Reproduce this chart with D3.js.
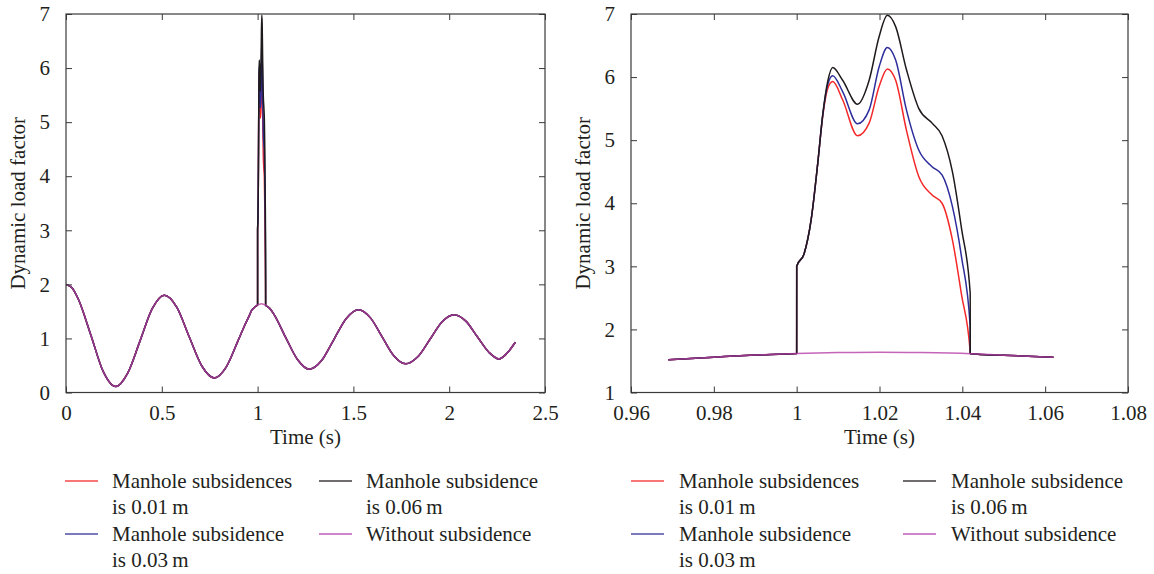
<!DOCTYPE html>
<html>
<head>
<meta charset="utf-8">
<script src="https://cdn.jsdelivr.net/npm/d3@7"></script>
<style>
  body { margin: 0; background: #fff; }
  svg { display: block; }
</style>
</head>
<body>
<div id="chart"></div>
<script>
// Без проседания люка (общая кривая)
const timeBase = [0, 0.03, 0.065, 0.13, 0.194, 0.259, 0.322, 0.386, 0.45, 0.513, 0.578, 0.643, 0.709, 0.774,
  0.836, 0.897, 0.93, 0.959, 0.969, 0.98, 0.99, 1.0, 1.01, 1.02, 1.03, 1.042, 1.05, 1.062, 1.083, 1.145,
  1.208, 1.27, 1.334, 1.398, 1.463, 1.527, 1.589, 1.65, 1.711, 1.773, 1.836, 1.9, 1.963, 2.026, 2.087,
  2.147, 2.208, 2.26, 2.3, 2.345]
const dlfBase = [2.0, 1.94, 1.72, 1.06, 0.39, 0.11, 0.36, 0.95, 1.55, 1.80, 1.58, 1.03, 0.49, 0.27,
  0.47, 0.95, 1.22, 1.44, 1.52, 1.56, 1.595, 1.62, 1.633, 1.64, 1.633, 1.614, 1.59, 1.56, 1.46, 1.03,
  0.61, 0.43, 0.59, 0.98, 1.37, 1.53, 1.38, 1.03, 0.68, 0.53, 0.66, 0.985, 1.31, 1.44, 1.32,
  1.03, 0.74, 0.62, 0.72, 0.93]

// Удар по люку: 1.0 .. 1.042 с
const timeHit = [1.0, 1.00001, 1.0018, 1.0035, 1.0051, 1.0063, 1.0075, 1.0087, 1.0111, 1.0147, 1.0175,
  1.0199, 1.0219, 1.0239, 1.0265, 1.0295, 1.0327, 1.0351, 1.0376, 1.0398, 1.0419, 1.04191]
const dlf001 = [1.62, 3.0, 3.2, 3.74, 4.64, 5.38, 5.82, 5.93, 5.64, 5.07, 5.27,
  5.85, 6.13, 5.95, 5.16, 4.42, 4.13, 4.00, 3.42, 2.55, 1.64, 1.62]
const dlf003 = [1.62, 3.0, 3.2, 3.74, 4.64, 5.40, 5.88, 6.02, 5.77, 5.26, 5.48,
  6.16, 6.47, 6.27, 5.48, 4.84, 4.58, 4.45, 3.95, 3.15, 2.05, 1.62]
const dlf006 = [1.62, 3.0, 3.2, 3.74, 4.64, 5.41, 5.93, 6.15, 5.95, 5.57, 5.95,
  6.64, 6.98, 6.80, 6.12, 5.50, 5.27, 5.07, 4.50, 3.60, 2.57, 1.62]

const seriesNames = [['Manhole subsidences', 'is 0.01\u2009m'], ['Manhole subsidence', 'is 0.06\u2009m'],
  ['Manhole subsidence', 'is 0.03\u2009m'], ['Without subsidence']]
const xTicksLeft = [0, 0.5, 1, 1.5, 2, 2.5]
const xTicksRight = [0.96, 0.98, 1, 1.02, 1.04, 1.06, 1.08]
const yTicksLeft = [0, 1, 2, 3, 4, 5, 6, 7]
const yTicksRight = [1, 2, 3, 4, 5, 6, 7]

const COLORS = { red: '#f42828', blue: '#2d2d9c', black: '#1f1a1c', mag: '#b63ea9' }
const FONT = "'Liberation Serif', 'Times New Roman', serif"

function pts(ts, vs) { return ts.map((t, i) => ({ t: t, v: vs[i] })) }

const base = pts(timeBase, dlfBase)
function withHit(vals) {
  return base.filter(d => d.t < 1.0)
    .concat(pts(timeHit, vals))
    .concat(base.filter(d => d.t > 1.0419))
}

const lines = [
  { data: withHit(dlf001), color: COLORS.red, op: 1 },
  { data: withHit(dlf003), color: COLORS.blue, op: 1 },
  { data: withHit(dlf006), color: COLORS.black, op: 1 },
  { data: base, color: COLORS.mag, op: 0.8 }
]

const svg = d3.select('#chart').append('svg')
  .attr('width', 1154)
  .attr('height', 574)

const panels = [
  { id: 'l', x0: 66, x1: 545, xd: [0, 2.5], yd: [0, 7], xt: xTicksLeft, yt: yTicksLeft,
    tRange: [0, 3], ylabX: 25, leg: { c1: 65, c2: 319, txt: 47 } },
  { id: 'r', x0: 631, x1: 1128, xd: [0.96, 1.08], yd: [1, 7], xt: xTicksRight, yt: yTicksRight,
    tRange: [0.969, 1.062], ylabX: 590, leg: { c1: 631, c2: 903, txt: 48 } }
]
const TOP = 14, BOT = 392.5

panels.forEach(p => {
  const x = d3.scaleLinear().domain(p.xd).range([p.x0, p.x1])
  const y = d3.scaleLinear().domain(p.yd).range([BOT, TOP])
  const g = svg.append('g')

  g.append('clipPath').attr('id', 'clip' + p.id)
    .append('rect').attr('x', p.x0).attr('y', TOP).attr('width', p.x1 - p.x0).attr('height', BOT - TOP)

  const line = d3.line().x(d => x(d.t)).y(d => y(d.v)).curve(d3.curveMonotoneX)
  const plot = g.append('g').attr('clip-path', 'url(#clip' + p.id + ')')
  lines.forEach(s => {
    plot.append('path')
      .datum(s.data.filter(d => d.t >= p.tRange[0] - 1e-9 && d.t <= p.tRange[1] + 1e-9))
      .attr('d', line)
      .attr('fill', 'none')
      .attr('stroke', s.color)
      .attr('stroke-opacity', s.op)
      .attr('stroke-width', 1.5)
  })

  // оси: тики внутрь, со всех сторон
  const axStyle = a => a.call(s => s.select('.domain').remove())
    .call(s => s.selectAll('line').attr('stroke', '#3a3a3a').attr('stroke-width', 1))
    .call(s => s.selectAll('text').attr('fill', '#231f20')
      .style('font-family', FONT).style('font-size', '21px'))
  g.append('g').attr('transform', `translate(0,${BOT})`)
    .call(d3.axisBottom(x).tickValues(p.xt).tickFormat(d3.format('~g')).tickSizeInner(-6).tickPadding(13))
    .call(axStyle)
  g.append('g').attr('transform', `translate(0,${TOP})`)
    .call(d3.axisTop(x).tickValues(p.xt).tickFormat('').tickSizeInner(-6))
    .call(axStyle)
  g.append('g').attr('transform', `translate(${p.x0},0)`)
    .call(d3.axisLeft(y).tickValues(p.yt).tickFormat(d3.format('~g')).tickSizeInner(-6).tickPadding(16))
    .call(axStyle)
  g.append('g').attr('transform', `translate(${p.x1},0)`)
    .call(d3.axisRight(y).tickValues(p.yt).tickFormat('').tickSizeInner(-6))
    .call(axStyle)

  g.append('rect').attr('x', p.x0).attr('y', TOP).attr('width', p.x1 - p.x0).attr('height', BOT - TOP)
    .attr('fill', 'none').attr('stroke', '#3a3a3a').attr('stroke-width', 1.2)

  g.append('text').attr('x', (p.x0 + p.x1) / 2).attr('y', 444)
    .attr('text-anchor', 'middle').attr('fill', '#231f20')
    .style('font-family', FONT).style('font-size', '21px').text('Time (s)')
  g.append('text').attr('transform', `translate(${p.ylabX},${(TOP + BOT) / 2}) rotate(-90)`)
    .attr('text-anchor', 'middle').attr('fill', '#231f20')
    .style('font-family', FONT).style('font-size', '21px').text('Dynamic load factor')

  // легенда 2x2
  const legColors = [COLORS.red, COLORS.black, COLORS.blue, COLORS.mag]
  seriesNames.forEach((names, i) => {
    const lx = i % 2 === 0 ? p.leg.c1 : p.leg.c2
    const ly = i < 2 ? 481 : 534
    g.append('line').attr('x1', lx).attr('x2', lx + 33).attr('y1', ly).attr('y2', ly)
      .attr('stroke', legColors[i]).attr('stroke-width', 1.3).attr('stroke-opacity', 0.85)
    names.forEach((s, k) => {
      g.append('text').attr('x', lx + p.leg.txt).attr('y', ly + 7 + k * 25.5)
        .attr('fill', '#231f20')
        .style('font-family', FONT).style('font-size', '21px').text(s)
    })
  })
})
</script>
</body>
</html>
